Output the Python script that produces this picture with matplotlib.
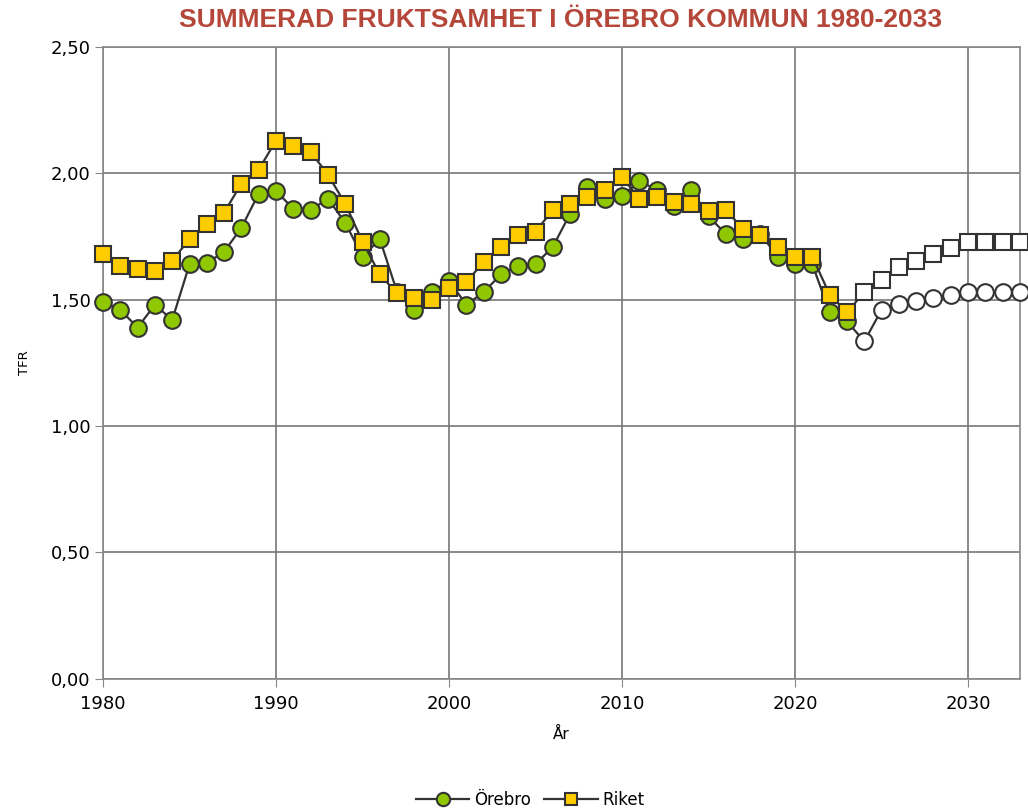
import matplotlib.pyplot as plt
from matplotlib.ticker import FuncFormatter

years = list(range(1980, 2034))

# historical values 1980-2023
orebro_hist = [1.49, 1.46, 1.39, 1.48, 1.42, 1.64, 1.645, 1.69, 1.785, 1.92,
               1.93, 1.86, 1.855, 1.90, 1.805, 1.67, 1.74, 1.53, 1.46, 1.53,
               1.575, 1.48, 1.53, 1.60, 1.635, 1.64, 1.71, 1.84, 1.945, 1.90,
               1.91, 1.97, 1.935, 1.87, 1.935, 1.83, 1.76, 1.74, 1.76, 1.67,
               1.64, 1.64, 1.45, 1.415]
riket_hist = [1.68, 1.635, 1.62, 1.615, 1.655, 1.74, 1.80, 1.845, 1.96, 2.015,
              2.13, 2.11, 2.085, 1.995, 1.88, 1.73, 1.60, 1.525, 1.505, 1.50,
              1.545, 1.57, 1.65, 1.71, 1.755, 1.77, 1.855, 1.88, 1.905, 1.935,
              1.985, 1.90, 1.905, 1.885, 1.88, 1.85, 1.855, 1.78, 1.755, 1.71,
              1.67, 1.67, 1.52, 1.45]

# projection 2024-2033
orebro_prog = [1.335, 1.46, 1.485, 1.495, 1.505, 1.52, 1.53, 1.53, 1.53, 1.53]
riket_prog = [1.53, 1.58, 1.63, 1.655, 1.68, 1.705, 1.73, 1.73, 1.73, 1.73]

orebro = orebro_hist + orebro_prog
riket = riket_hist + riket_prog
n_hist = len(orebro_hist)

plt.rcParams['font.family'] = ['DejaVu Sans']

fig = plt.figure(figsize=(10.28, 8.11), dpi=100)
ax = fig.add_axes([0.1002, 0.163, 0.892, 0.779])

line_col = '#333333'
ax.plot(years, orebro, color=line_col, lw=1.6, marker='o', ms=12,
        mfc='#8fc800', mec=line_col, mew=1.5, markevery=list(range(n_hist)),
        label='Örebro', zorder=3, clip_on=False)
ax.plot(years, riket, color=line_col, lw=1.6, marker='s', ms=11.5,
        mfc='#ffcc00', mec=line_col, mew=1.5, markevery=list(range(n_hist)),
        label='Riket', zorder=4, clip_on=False)
ax.plot(years[n_hist:], orebro_prog, ls='none', marker='o', ms=12,
        mfc='white', mec=line_col, mew=1.5, zorder=3, clip_on=False)
ax.plot(years[n_hist:], riket_prog, ls='none', marker='s', ms=11.5,
        mfc='white', mec=line_col, mew=1.5, zorder=4, clip_on=False)

ax.set_xlim(1980, 2033)
ax.set_ylim(0, 2.5)
ax.set_xticks(range(1980, 2031, 10))
ax.set_yticks([0, 0.5, 1.0, 1.5, 2.0, 2.5])
ax.yaxis.set_major_formatter(FuncFormatter(lambda v, p: f'{v:.2f}'.replace('.', ',')))
ax.grid(True, color='#777777', lw=1.2)
ax.set_axisbelow(True)
ax.tick_params(labelsize=13, length=6, color='#888888', pad=3)
ax.tick_params(axis='x', pad=6)
for s in ax.spines.values():
    s.set_color('#888888')
    s.set_linewidth(1.2)

ax.set_xlabel('År', fontsize=11, labelpad=10)
ax.set_ylabel('TFR', fontsize=9.5, labelpad=14)
fig.suptitle('SUMMERAD FRUKTSAMHET I ÖREBRO KOMMUN 1980-2033',
             fontsize=19, fontweight='bold', color='#b5473a',
             family=['Liberation Sans Narrow', 'Liberation Sans'], x=0.545, y=0.99)

fig.legend(loc='lower center', bbox_to_anchor=(0.516, -0.016), ncol=2, frameon=False,
           fontsize=12, handlelength=3.2, columnspacing=0.8, handletextpad=0.3,
           markerscale=0.8)

fig.savefig('out.png')
